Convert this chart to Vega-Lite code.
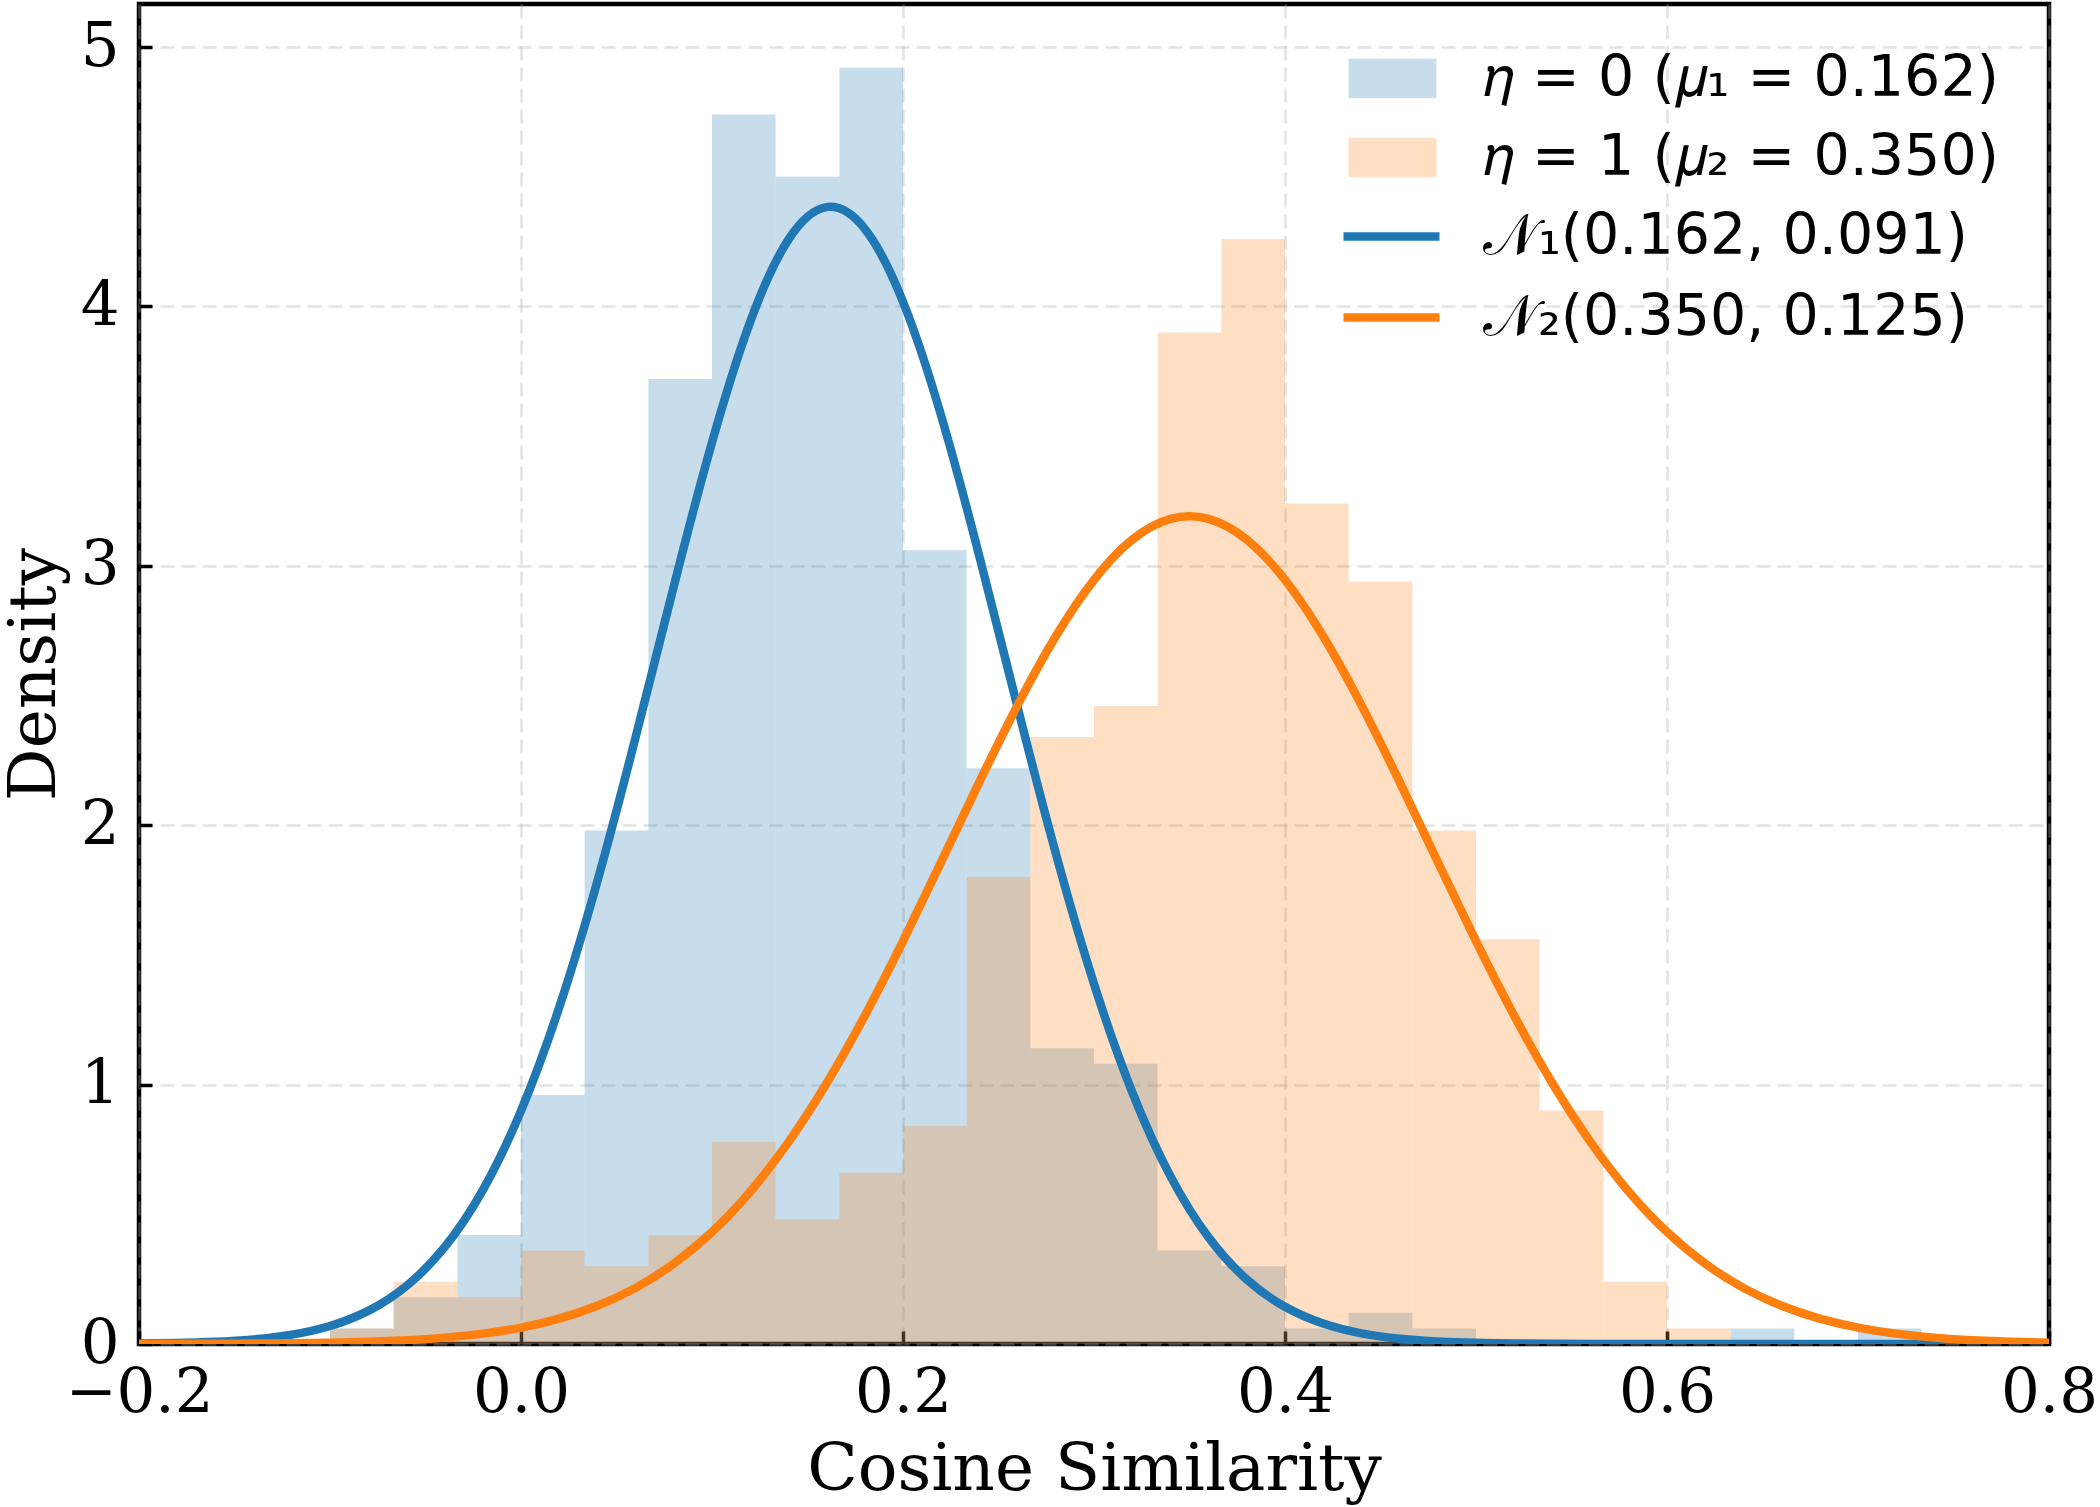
{
  "$schema": "https://vega.github.io/schema/vega-lite/v6.json",
  "width": 1910,
  "height": 1340,
  "autosize": "none",
  "padding": {"left": 139, "top": 4, "right": 51, "bottom": 163},
  "background": "white",
  "config": {
    "view": {"stroke": "black", "strokeWidth": 4.5},
    "axis": {
      "domain": false,
      "ticks": true, "tickSize": -13, "tickWidth": 3.5, "tickColor": "black",
      "grid": true, "gridColor": "#b0b0b0", "gridOpacity": 0.35, "gridDash": [14, 7], "gridWidth": 2.5,
      "labelFont": "DejaVu Serif", "labelFontSize": 61, "labelColor": "black",
      "titleFont": "DejaVu Serif", "titleFontSize": 66, "titleFontWeight": "normal", "titleColor": "black"
    },
    "axisX": {"labelPadding": 32, "titlePadding": 14, "labelFlush": false},
    "axisY": {"labelPadding": 33, "titlePadding": 12}
  },
  "datasets": {
    "bars": [
      {"series": "𝜂 = 0 (𝜇₁ = 0.162)", "x0": -0.1, "x1": -0.0667, "density": 0.06},
      {"series": "𝜂 = 0 (𝜇₁ = 0.162)", "x0": -0.0667, "x1": -0.0333, "density": 0.18},
      {"series": "𝜂 = 0 (𝜇₁ = 0.162)", "x0": -0.0333, "x1": 0.0, "density": 0.42},
      {"series": "𝜂 = 0 (𝜇₁ = 0.162)", "x0": 0.0, "x1": 0.0333, "density": 0.96},
      {"series": "𝜂 = 0 (𝜇₁ = 0.162)", "x0": 0.0333, "x1": 0.0667, "density": 1.98},
      {"series": "𝜂 = 0 (𝜇₁ = 0.162)", "x0": 0.0667, "x1": 0.1, "density": 3.72},
      {"series": "𝜂 = 0 (𝜇₁ = 0.162)", "x0": 0.1, "x1": 0.1333, "density": 4.74},
      {"series": "𝜂 = 0 (𝜇₁ = 0.162)", "x0": 0.1333, "x1": 0.1667, "density": 4.5},
      {"series": "𝜂 = 0 (𝜇₁ = 0.162)", "x0": 0.1667, "x1": 0.2, "density": 4.92},
      {"series": "𝜂 = 0 (𝜇₁ = 0.162)", "x0": 0.2, "x1": 0.2333, "density": 3.06},
      {"series": "𝜂 = 0 (𝜇₁ = 0.162)", "x0": 0.2333, "x1": 0.2667, "density": 2.22},
      {"series": "𝜂 = 0 (𝜇₁ = 0.162)", "x0": 0.2667, "x1": 0.3, "density": 1.14},
      {"series": "𝜂 = 0 (𝜇₁ = 0.162)", "x0": 0.3, "x1": 0.3333, "density": 1.08},
      {"series": "𝜂 = 0 (𝜇₁ = 0.162)", "x0": 0.3333, "x1": 0.3667, "density": 0.36},
      {"series": "𝜂 = 0 (𝜇₁ = 0.162)", "x0": 0.3667, "x1": 0.4, "density": 0.3},
      {"series": "𝜂 = 0 (𝜇₁ = 0.162)", "x0": 0.4, "x1": 0.4333, "density": 0.06},
      {"series": "𝜂 = 0 (𝜇₁ = 0.162)", "x0": 0.4333, "x1": 0.4667, "density": 0.12},
      {"series": "𝜂 = 0 (𝜇₁ = 0.162)", "x0": 0.4667, "x1": 0.5, "density": 0.06},
      {"series": "𝜂 = 0 (𝜇₁ = 0.162)", "x0": 0.6333, "x1": 0.6667, "density": 0.06},
      {"series": "𝜂 = 0 (𝜇₁ = 0.162)", "x0": 0.7, "x1": 0.7333, "density": 0.06},
      {"series": "𝜂 = 1 (𝜇₂ = 0.350)", "x0": -0.1, "x1": -0.0667, "density": 0.06},
      {"series": "𝜂 = 1 (𝜇₂ = 0.350)", "x0": -0.0667, "x1": -0.0333, "density": 0.24},
      {"series": "𝜂 = 1 (𝜇₂ = 0.350)", "x0": -0.0333, "x1": 0.0, "density": 0.18},
      {"series": "𝜂 = 1 (𝜇₂ = 0.350)", "x0": 0.0, "x1": 0.0333, "density": 0.36},
      {"series": "𝜂 = 1 (𝜇₂ = 0.350)", "x0": 0.0333, "x1": 0.0667, "density": 0.3},
      {"series": "𝜂 = 1 (𝜇₂ = 0.350)", "x0": 0.0667, "x1": 0.1, "density": 0.42},
      {"series": "𝜂 = 1 (𝜇₂ = 0.350)", "x0": 0.1, "x1": 0.1333, "density": 0.78},
      {"series": "𝜂 = 1 (𝜇₂ = 0.350)", "x0": 0.1333, "x1": 0.1667, "density": 0.48},
      {"series": "𝜂 = 1 (𝜇₂ = 0.350)", "x0": 0.1667, "x1": 0.2, "density": 0.66},
      {"series": "𝜂 = 1 (𝜇₂ = 0.350)", "x0": 0.2, "x1": 0.2333, "density": 0.84},
      {"series": "𝜂 = 1 (𝜇₂ = 0.350)", "x0": 0.2333, "x1": 0.2667, "density": 1.8},
      {"series": "𝜂 = 1 (𝜇₂ = 0.350)", "x0": 0.2667, "x1": 0.3, "density": 2.34},
      {"series": "𝜂 = 1 (𝜇₂ = 0.350)", "x0": 0.3, "x1": 0.3333, "density": 2.46},
      {"series": "𝜂 = 1 (𝜇₂ = 0.350)", "x0": 0.3333, "x1": 0.3667, "density": 3.9},
      {"series": "𝜂 = 1 (𝜇₂ = 0.350)", "x0": 0.3667, "x1": 0.4, "density": 4.26},
      {"series": "𝜂 = 1 (𝜇₂ = 0.350)", "x0": 0.4, "x1": 0.4333, "density": 3.24},
      {"series": "𝜂 = 1 (𝜇₂ = 0.350)", "x0": 0.4333, "x1": 0.4667, "density": 2.94},
      {"series": "𝜂 = 1 (𝜇₂ = 0.350)", "x0": 0.4667, "x1": 0.5, "density": 1.98},
      {"series": "𝜂 = 1 (𝜇₂ = 0.350)", "x0": 0.5, "x1": 0.5333, "density": 1.56},
      {"series": "𝜂 = 1 (𝜇₂ = 0.350)", "x0": 0.5333, "x1": 0.5667, "density": 0.9},
      {"series": "𝜂 = 1 (𝜇₂ = 0.350)", "x0": 0.5667, "x1": 0.6, "density": 0.24},
      {"series": "𝜂 = 1 (𝜇₂ = 0.350)", "x0": 0.6, "x1": 0.6333, "density": 0.06}
    ],
    "curves": [
      {"curve": "𝒩₁(0.162, 0.091)", "x": -0.2, "y": 0.0016},
      {"curve": "𝒩₁(0.162, 0.091)", "x": -0.18, "y": 0.0038},
      {"curve": "𝒩₁(0.162, 0.091)", "x": -0.16, "y": 0.0084},
      {"curve": "𝒩₁(0.162, 0.091)", "x": -0.14, "y": 0.0178},
      {"curve": "𝒩₁(0.162, 0.091)", "x": -0.12, "y": 0.036},
      {"curve": "𝒩₁(0.162, 0.091)", "x": -0.1, "y": 0.0695},
      {"curve": "𝒩₁(0.162, 0.091)", "x": -0.08, "y": 0.1277},
      {"curve": "𝒩₁(0.162, 0.091)", "x": -0.06, "y": 0.2236},
      {"curve": "𝒩₁(0.162, 0.091)", "x": -0.04, "y": 0.3732},
      {"curve": "𝒩₁(0.162, 0.091)", "x": -0.02, "y": 0.5933},
      {"curve": "𝒩₁(0.162, 0.091)", "x": 0.0, "y": 0.8989},
      {"curve": "𝒩₁(0.162, 0.091)", "x": 0.02, "y": 1.2975},
      {"curve": "𝒩₁(0.162, 0.091)", "x": 0.04, "y": 1.7847},
      {"curve": "𝒩₁(0.162, 0.091)", "x": 0.06, "y": 2.3391},
      {"curve": "𝒩₁(0.162, 0.091)", "x": 0.08, "y": 2.9211},
      {"curve": "𝒩₁(0.162, 0.091)", "x": 0.1, "y": 3.4759},
      {"curve": "𝒩₁(0.162, 0.091)", "x": 0.12, "y": 3.9411},
      {"curve": "𝒩₁(0.162, 0.091)", "x": 0.14, "y": 4.2577},
      {"curve": "𝒩₁(0.162, 0.091)", "x": 0.16, "y": 4.3829},
      {"curve": "𝒩₁(0.162, 0.091)", "x": 0.18, "y": 4.2991},
      {"curve": "𝒩₁(0.162, 0.091)", "x": 0.2, "y": 4.018},
      {"curve": "𝒩₁(0.162, 0.091)", "x": 0.22, "y": 3.5781},
      {"curve": "𝒩₁(0.162, 0.091)", "x": 0.24, "y": 3.0362},
      {"curve": "𝒩₁(0.162, 0.091)", "x": 0.26, "y": 2.4549},
      {"curve": "𝒩₁(0.162, 0.091)", "x": 0.28, "y": 1.8912},
      {"curve": "𝒩₁(0.162, 0.091)", "x": 0.3, "y": 1.3883},
      {"curve": "𝒩₁(0.162, 0.091)", "x": 0.32, "y": 0.9711},
      {"curve": "𝒩₁(0.162, 0.091)", "x": 0.34, "y": 0.6472},
      {"curve": "𝒩₁(0.162, 0.091)", "x": 0.36, "y": 0.411},
      {"curve": "𝒩₁(0.162, 0.091)", "x": 0.38, "y": 0.2487},
      {"curve": "𝒩₁(0.162, 0.091)", "x": 0.4, "y": 0.1434},
      {"curve": "𝒩₁(0.162, 0.091)", "x": 0.42, "y": 0.0788},
      {"curve": "𝒩₁(0.162, 0.091)", "x": 0.44, "y": 0.0412},
      {"curve": "𝒩₁(0.162, 0.091)", "x": 0.46, "y": 0.0206},
      {"curve": "𝒩₁(0.162, 0.091)", "x": 0.48, "y": 0.0098},
      {"curve": "𝒩₁(0.162, 0.091)", "x": 0.5, "y": 0.0044},
      {"curve": "𝒩₁(0.162, 0.091)", "x": 0.52, "y": 0.0019},
      {"curve": "𝒩₁(0.162, 0.091)", "x": 0.54, "y": 0.0008},
      {"curve": "𝒩₁(0.162, 0.091)", "x": 0.56, "y": 0.0003},
      {"curve": "𝒩₁(0.162, 0.091)", "x": 0.58, "y": 0.0001},
      {"curve": "𝒩₁(0.162, 0.091)", "x": 0.6, "y": 0.0},
      {"curve": "𝒩₁(0.162, 0.091)", "x": 0.65, "y": 0.0},
      {"curve": "𝒩₁(0.162, 0.091)", "x": 0.7, "y": 0.0},
      {"curve": "𝒩₁(0.162, 0.091)", "x": 0.75, "y": 0.0},
      {"curve": "𝒩₁(0.162, 0.091)", "x": 0.8, "y": 0.0},
      {"curve": "𝒩₂(0.350, 0.125)", "x": -0.2, "y": 0.0002},
      {"curve": "𝒩₂(0.350, 0.125)", "x": -0.18, "y": 0.0004},
      {"curve": "𝒩₂(0.350, 0.125)", "x": -0.16, "y": 0.0008},
      {"curve": "𝒩₂(0.350, 0.125)", "x": -0.14, "y": 0.0015},
      {"curve": "𝒩₂(0.350, 0.125)", "x": -0.12, "y": 0.0027},
      {"curve": "𝒩₂(0.350, 0.125)", "x": -0.1, "y": 0.0049},
      {"curve": "𝒩₂(0.350, 0.125)", "x": -0.08, "y": 0.0086},
      {"curve": "𝒩₂(0.350, 0.125)", "x": -0.06, "y": 0.0147},
      {"curve": "𝒩₂(0.350, 0.125)", "x": -0.04, "y": 0.0246},
      {"curve": "𝒩₂(0.350, 0.125)", "x": -0.02, "y": 0.0399},
      {"curve": "𝒩₂(0.350, 0.125)", "x": 0.0, "y": 0.0633},
      {"curve": "𝒩₂(0.350, 0.125)", "x": 0.02, "y": 0.0979},
      {"curve": "𝒩₂(0.350, 0.125)", "x": 0.04, "y": 0.1474},
      {"curve": "𝒩₂(0.350, 0.125)", "x": 0.06, "y": 0.2164},
      {"curve": "𝒩₂(0.350, 0.125)", "x": 0.08, "y": 0.3097},
      {"curve": "𝒩₂(0.350, 0.125)", "x": 0.1, "y": 0.4319},
      {"curve": "𝒩₂(0.350, 0.125)", "x": 0.12, "y": 0.5872},
      {"curve": "𝒩₂(0.350, 0.125)", "x": 0.14, "y": 0.7783},
      {"curve": "𝒩₂(0.350, 0.125)", "x": 0.16, "y": 1.0053},
      {"curve": "𝒩₂(0.350, 0.125)", "x": 0.18, "y": 1.2658},
      {"curve": "𝒩₂(0.350, 0.125)", "x": 0.2, "y": 1.5535},
      {"curve": "𝒩₂(0.350, 0.125)", "x": 0.22, "y": 1.8584},
      {"curve": "𝒩₂(0.350, 0.125)", "x": 0.24, "y": 2.1669},
      {"curve": "𝒩₂(0.350, 0.125)", "x": 0.26, "y": 2.4629},
      {"curve": "𝒩₂(0.350, 0.125)", "x": 0.28, "y": 2.7284},
      {"curve": "𝒩₂(0.350, 0.125)", "x": 0.3, "y": 2.9462},
      {"curve": "𝒩₂(0.350, 0.125)", "x": 0.32, "y": 3.1009},
      {"curve": "𝒩₂(0.350, 0.125)", "x": 0.34, "y": 3.1814},
      {"curve": "𝒩₂(0.350, 0.125)", "x": 0.36, "y": 3.1814},
      {"curve": "𝒩₂(0.350, 0.125)", "x": 0.38, "y": 3.1009},
      {"curve": "𝒩₂(0.350, 0.125)", "x": 0.4, "y": 2.9462},
      {"curve": "𝒩₂(0.350, 0.125)", "x": 0.42, "y": 2.7284},
      {"curve": "𝒩₂(0.350, 0.125)", "x": 0.44, "y": 2.4629},
      {"curve": "𝒩₂(0.350, 0.125)", "x": 0.46, "y": 2.1669},
      {"curve": "𝒩₂(0.350, 0.125)", "x": 0.48, "y": 1.8584},
      {"curve": "𝒩₂(0.350, 0.125)", "x": 0.5, "y": 1.5535},
      {"curve": "𝒩₂(0.350, 0.125)", "x": 0.52, "y": 1.2658},
      {"curve": "𝒩₂(0.350, 0.125)", "x": 0.54, "y": 1.0053},
      {"curve": "𝒩₂(0.350, 0.125)", "x": 0.56, "y": 0.7783},
      {"curve": "𝒩₂(0.350, 0.125)", "x": 0.58, "y": 0.5872},
      {"curve": "𝒩₂(0.350, 0.125)", "x": 0.6, "y": 0.4319},
      {"curve": "𝒩₂(0.350, 0.125)", "x": 0.62, "y": 0.3097},
      {"curve": "𝒩₂(0.350, 0.125)", "x": 0.64, "y": 0.2164},
      {"curve": "𝒩₂(0.350, 0.125)", "x": 0.66, "y": 0.1474},
      {"curve": "𝒩₂(0.350, 0.125)", "x": 0.68, "y": 0.0979},
      {"curve": "𝒩₂(0.350, 0.125)", "x": 0.7, "y": 0.0633},
      {"curve": "𝒩₂(0.350, 0.125)", "x": 0.72, "y": 0.0399},
      {"curve": "𝒩₂(0.350, 0.125)", "x": 0.74, "y": 0.0246},
      {"curve": "𝒩₂(0.350, 0.125)", "x": 0.76, "y": 0.0147},
      {"curve": "𝒩₂(0.350, 0.125)", "x": 0.78, "y": 0.0086},
      {"curve": "𝒩₂(0.350, 0.125)", "x": 0.8, "y": 0.0049}
    ]
  },
  "layer": [
    {
      "data": {"name": "bars"},
      "mark": {"type": "rect", "opacity": 0.25},
      "encoding": {
        "x": {"field": "x0", "type": "quantitative", "title": "Cosine Similarity",
              "scale": {"domain": [-0.2, 0.8], "nice": false, "zero": false},
              "axis": {"values": [-0.2, 0, 0.2, 0.4, 0.6, 0.8], "format": ".1f"}},
        "x2": {"field": "x1"},
        "y": {"field": "density", "type": "quantitative", "title": "Density",
              "scale": {"domain": [0, 5.166], "nice": false},
              "axis": {"values": [0, 1, 2, 3, 4, 5], "format": "d"}},
        "y2": {"datum": 0},
        "fill": {"field": "series", "type": "nominal",
                 "scale": {"domain": ["𝜂 = 0 (𝜇₁ = 0.162)", "𝜂 = 1 (𝜇₂ = 0.350)"], "range": ["#1f77b4", "#ff7f0e"]},
                 "legend": {"title": null, "orient": "none", "legendX": 1225, "legendY": 46,
                            "symbolType": "M-2,-0.9H2V0.9H-2Z", "symbolSize": 1936, "symbolOpacity": 0.25, "symbolStrokeWidth": 0,
                            "labelFont": "DejaVu Sans", "labelFontSize": 57, "labelColor": "black",
                            "labelOffset": 63, "labelLimit": 1000, "rowPadding": 21, "padding": 0}}
      }
    },
    {
      "data": {"name": "curves"},
      "mark": {"type": "line", "strokeWidth": 8.5, "interpolate": "natural", "clip": true},
      "encoding": {
        "x": {"field": "x", "type": "quantitative", "title": "Cosine Similarity"},
        "y": {"field": "y", "type": "quantitative", "title": "Density"},
        "stroke": {"field": "curve", "type": "nominal",
                   "scale": {"domain": ["𝒩₁(0.162, 0.091)", "𝒩₂(0.350, 0.125)"], "range": ["#1f77b4", "#ff7f0e"]},
                   "legend": {"title": null, "orient": "none", "legendX": 1224, "legendY": 204,
                              "symbolType": "M-2,0H2", "symbolSize": 2304, "symbolStrokeWidth": 8.5, "symbolFillColor": "transparent",
                              "labelFont": "DejaVu Sans", "labelFontSize": 57, "labelColor": "black",
                              "labelOffset": 63, "labelLimit": 1000, "rowPadding": 23, "padding": 0}}
      }
    }
  ]
}
